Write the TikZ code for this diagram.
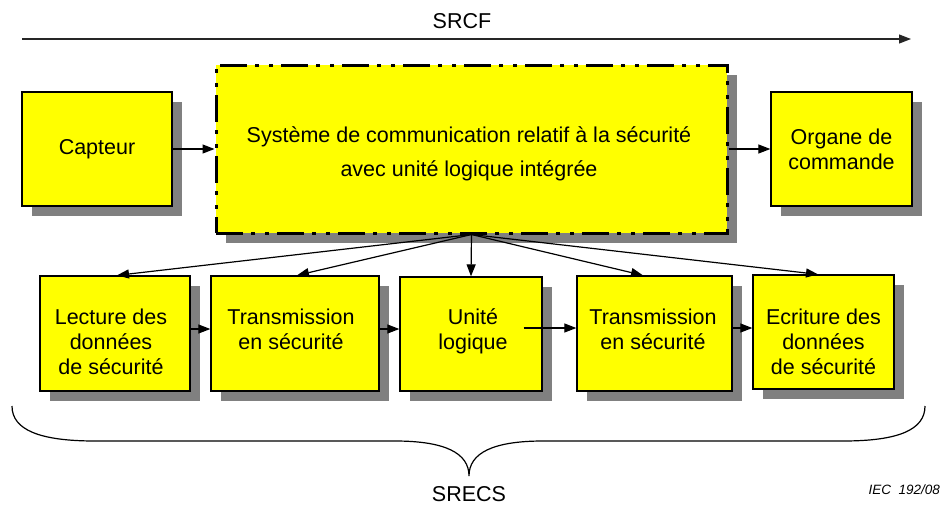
\documentclass[tikz,border=0pt]{standalone}
\usepackage{fontspec}
\setmainfont{Liberation Sans}
\usetikzlibrary{arrows.meta,calc,shadows}
\definecolor{boxyellow}{RGB}{255,255,0}
\definecolor{shadowgray}{RGB}{128,128,128}
\begin{document}
\begin{tikzpicture}[x=1pt,y=-1pt,
  shd/.style={drop shadow={shadow xshift=10pt,shadow yshift=-10pt,fill=shadowgray,opacity=1}},
  box/.style={draw=black,line width=1.3pt,fill=boxyellow,shd,inner sep=0pt,
    font=\fontsize{21.5}{25}\selectfont,align=center},
  bigbox/.style={draw=black,line width=3pt,fill=boxyellow,shd,inner sep=0pt,
    dash pattern=on 27pt off 8pt on 4pt off 10pt on 4pt off 8pt},
  lbl/.style={font=\fontsize{21.5}{25}\selectfont,align=center,inner sep=0pt,anchor=north},
  arr/.style={line width=1.2pt,-{Triangle[length=12pt,width=9pt]}},
  brace/.style={line width=1.2pt}
]
\path[use as bounding box] (0,0) rectangle (943,507);

% top arrow
\coordinate (s0) at (22,39);
\coordinate (s1) at (911,39);
\draw[arr,draw=black!85] (s0) -- (s1);
\node[font=\fontsize{21.5}{25}\selectfont,inner sep=0pt] (srcf) at (462,21) {SRCF};

% top row
\node[box,minimum width=150pt,minimum height=114pt] (cap) at (97,149) {Capteur};
\node[bigbox,minimum width=511pt,minimum height=168pt] (big) at (471.5,149) {};
\node[font=\fontsize{21.5}{34}\selectfont,align=center,inner sep=0pt] (bigT) at (469,154)
  {Système de communication relatif à la sécurité\\avec unité logique intégrée};
\node[box,minimum width=141pt,minimum height=114pt] (org) at (841.5,149) {Organe de\\commande};

% bottom row
\node[box,minimum width=150pt,minimum height=115pt] (lect) at (115,333.5) {};
\node[box,minimum width=168pt,minimum height=115pt] (tr1) at (295,333.5) {};
\node[box,minimum width=142pt,minimum height=114pt] (unit) at (471,334) {};
\node[box,minimum width=155pt,minimum height=115pt] (tr2) at (654.5,333.5) {};
\node[box,minimum width=141pt,minimum height=114pt] (ecr) at (823.5,332) {};

\node[lbl] (lectT) at (111,306.5) {\strut Lecture des\\données\\de sécurité};
\node[lbl] (tr1T) at (291,306.5) {\strut Transmission\\en sécurité};
\node[lbl] (unitT) at (473,306.5) {\strut Unité\\logique};
\node[lbl] (tr2T) at (653,306.5) {\strut Transmission\\en sécurité};
\node[lbl] (ecrT) at (823.5,306.5) {\strut Ecriture des\\données\\de sécurité};

% connectors
\draw[arr] (cap.east) -- (big.west);
\draw[arr] (big.east) -- (org.west);
\draw[arr] (big.south) -- ($(lect.north)+(2,0)$);
\draw[arr] (big.south) -- ($(tr1.north)+(2,0)$);
\draw[arr] (big.south) -- (unit.north);
\draw[arr] (big.south) -- ($(tr2.north)+(-11.5,0)$);
\draw[arr] (big.south) -- ($(ecr.north)+(-5.5,0)$);

\draw[arr] ($(lect.east)+(0,-4.5)$) -- ($(tr1.west)+(0,-4.5)$);
\draw[arr] ($(tr1.east)+(0,-4.5)$) -- ($(unit.west)+(0,-5)$);
\draw[arr] ($(unit.east)+(-19,-6)$) -- ($(tr2.west)+(0,-5.5)$);
\draw[arr] ($(tr2.east)+(0,-5.5)$) -- ($(ecr.west)+(0,-4)$);

% brace
\draw[brace] (12,406) .. controls (12,430) and (40,441) .. (95,441) -- (395,441)
  .. controls (445,441) and (469,453) .. (469,476)
  .. controls (469,453) and (493,441) .. (543,441) -- (843,441)
  .. controls (898,441) and (925,430) .. (925,406);
\node[font=\fontsize{21.5}{25}\selectfont,inner sep=0pt] (srecs) at (469,494) {SRECS};
\node[font=\fontsize{13.5}{16}\selectfont\itshape,inner sep=0pt,anchor=east] (iec) at (940,490) {IEC~~192/08};
\end{tikzpicture}
\end{document}
